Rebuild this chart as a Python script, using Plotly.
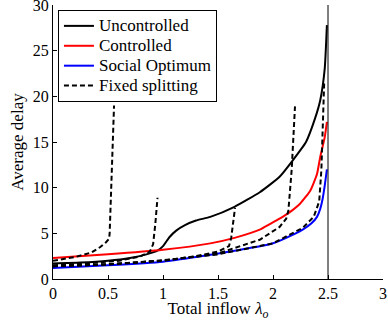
import plotly.graph_objects as go

# Series names
series_names = ["Uncontrolled", "Controlled", "Social Optimum", "Fixed splitting"]

# Uncontrolled
unc_x = [0, 0.25, 0.5, 0.7, 0.85, 0.95, 1.0, 1.06, 1.12, 1.2, 1.3, 1.43, 1.65, 1.88, 2.06, 2.18, 2.3, 2.38, 2.43, 2.47, 2.49]
unc_y = [1.7, 1.8, 2.0, 2.3, 2.7, 3.1, 3.6, 4.6, 5.3, 5.9, 6.4, 6.8, 7.9, 9.5, 11.2, 13.0, 15.0, 17.5, 19.6, 23.0, 27.8]

# Controlled
con_x = [0, 0.5, 1.0, 1.43, 1.65, 1.88, 1.97, 2.06, 2.15, 2.25, 2.34, 2.4, 2.43, 2.47, 2.49]
con_y = [2.3, 2.7, 3.2, 3.9, 4.5, 5.4, 6.0, 6.6, 7.3, 8.3, 9.7, 11.5, 13.4, 15.5, 17.2]

# Social optimum
so_x = [0, 0.5, 1.0, 1.3, 1.65, 1.97, 2.1, 2.27, 2.35, 2.4, 2.43, 2.45, 2.47, 2.49]
so_y = [1.2, 1.5, 1.9, 2.4, 3.1, 3.8, 4.4, 5.4, 6.1, 6.8, 7.7, 8.7, 10.2, 12.0]

# Fixed splitting (several split ratios)
fs1_x = [0, 0.2, 0.35, 0.43, 0.48, 0.51, 0.515, 0.53, 0.545, 0.555]
fs1_y = [2.0, 2.4, 2.9, 3.5, 4.0, 4.4, 5.0, 10.0, 15.0, 19.0]
fs2_x = [0, 0.3, 0.6, 0.8, 0.88, 0.91, 0.93, 0.95]
fs2_y = [1.5, 1.7, 2.0, 2.5, 3.0, 3.8, 6.0, 8.9]
fs3_x = [0, 0.5, 1.0, 1.3, 1.5, 1.6, 1.62, 1.64, 1.655]
fs3_y = [1.4, 1.6, 2.0, 2.5, 3.0, 3.6, 4.5, 6.2, 7.8]
fs4_x = [0, 0.5, 1.0, 1.5, 1.88, 2.06, 2.12, 2.14, 2.17, 2.2]
fs4_y = [1.4, 1.6, 2.0, 2.8, 4.3, 5.7, 6.6, 7.5, 12.0, 18.9]
fs5_x = [0, 0.5, 1.0, 1.5, 2.0, 2.27, 2.37, 2.42, 2.44, 2.455, 2.465]
fs5_y = [1.4, 1.6, 2.05, 2.7, 3.9, 5.6, 6.8, 8.5, 12.0, 17.0, 21.4]

capacity = 2.5

x_ticks = [0, 0.5, 1, 1.5, 2, 2.5, 3]
x_labels = ["0", "0.5", "1", "1.5", "2", "2.5", "3"]
y_ticks = [0, 5, 10, 15, 20, 25, 30]

fs_x, fs_y = [], []
for xs, ys in [(fs1_x, fs1_y), (fs2_x, fs2_y), (fs3_x, fs3_y), (fs4_x, fs4_y), (fs5_x, fs5_y)]:
    fs_x += xs + [None]
    fs_y += ys + [None]


def lname(s):
    return '<span style="font-size:17px">' + s + '</span>'


fig = go.Figure()
fig.add_trace(go.Scatter(x=unc_x, y=unc_y, mode="lines", name=lname(series_names[0]),
                         line=dict(color="black", width=2, shape="spline", smoothing=0.5)))
fig.add_trace(go.Scatter(x=con_x, y=con_y, mode="lines", name=lname(series_names[1]),
                         line=dict(color="red", width=2, shape="spline", smoothing=0.5)))
fig.add_trace(go.Scatter(x=so_x, y=so_y, mode="lines", name=lname(series_names[2]),
                         line=dict(color="blue", width=2, shape="spline", smoothing=0.5)))
fig.add_trace(go.Scatter(x=fs_x, y=fs_y, mode="lines", name=lname(series_names[3]),
                         connectgaps=False,
                         line=dict(color="black", width=2, dash="5px,3px")))
fig.add_trace(go.Scatter(x=[capacity, capacity], y=[0, 30], mode="lines", showlegend=False,
                         line=dict(color="black", width=1)))

font = "Liberation Serif, DejaVu Serif, serif"
fig.update_layout(
    width=388, height=321,
    margin=dict(l=53, r=5, t=5, b=42),
    plot_bgcolor="white", paper_bgcolor="white",
    font=dict(family=font, size=16, color="black"),
    showlegend=True,
    legend=dict(x=0.015, y=0.982, xanchor="left", yanchor="top",
                bgcolor="white", bordercolor="black", borderwidth=1,
                font=dict(family=font, size=13, color="black"),
                tracegroupgap=0, itemwidth=30),
    xaxis=dict(range=[0, 3], tickvals=x_ticks, ticktext=x_labels, automargin=False,
               showgrid=False, zeroline=False, showline=True, linecolor="black", linewidth=1,
               ticks="inside", ticklen=4, tickcolor="black", ticklabeloverflow="allow",
               tickfont=dict(family=font, size=16, color="black"),
               title=dict(text="Total inflow <i>λ<sub>o</sub></i>", standoff=3,
                          font=dict(family=font, size=17, color="black"))),
    yaxis=dict(range=[0, 30], tickvals=y_ticks, automargin=False,
               showgrid=False, zeroline=False, showline=True, linecolor="black", linewidth=1,
               ticks="inside", ticklen=4, tickcolor="black", ticklabeloverflow="allow",
               tickfont=dict(family=font, size=16, color="black"),
               title=dict(text="Average delay", standoff=4,
                          font=dict(family=font, size=17, color="black"))),
)

fig.write_html("out.html", config={"displayModeBar": False},
               post_script="document.body.style.margin='0';document.body.style.padding='0';")
